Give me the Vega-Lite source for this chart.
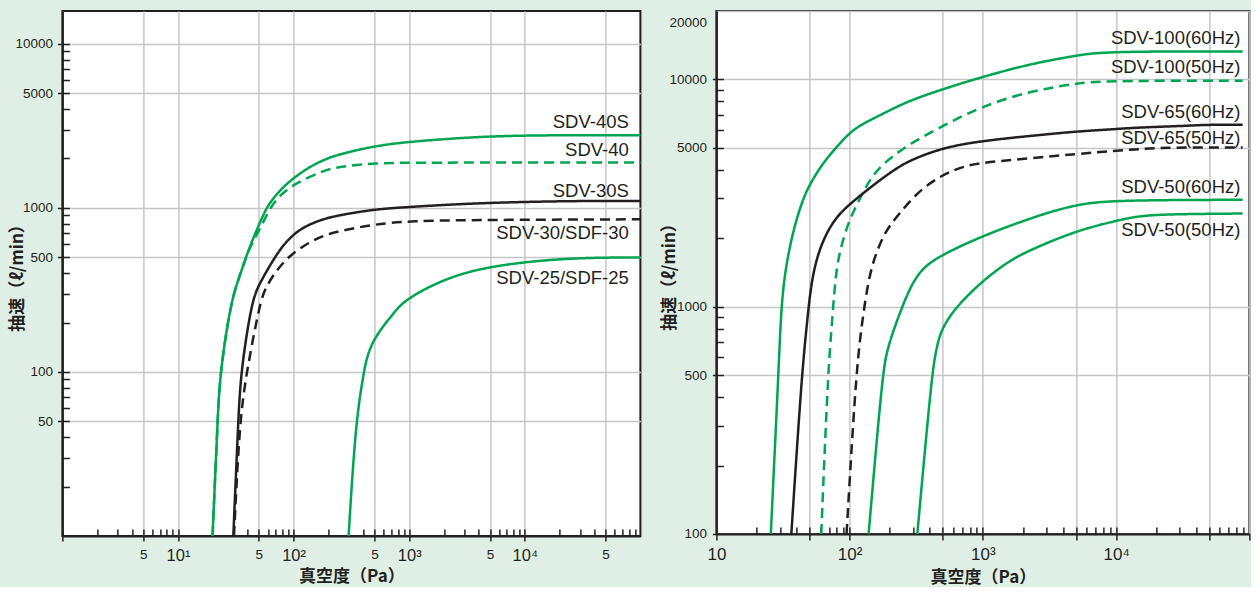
{
  "$schema": "https://vega.github.io/schema/vega-lite/v6.json",
  "background": "#e0efe5",
  "padding": {"left": 7.4, "top": 10, "right": 0, "bottom": 0},
  "spacing": 13,
  "config": {
    "view": {"fill": "white", "stroke": "#231f20", "strokeWidth": 2},
    "axis": {"tickColor": "#231f20", "tickWidth": 1.5, "domainColor": "#231f20", "domainWidth": 2, "gridColor": "#c6c6c8", "gridWidth": 1.5, "labelColor": "#231f20", "titleColor": "#231f20", "labelOverlap": false, "labelFlush": false, "labelBound": false}
  },
  "datasets": {
    "left": [
      {"m": "SDV-40S", "p": 19.9, "s": 10}, {"m": "SDV-40S", "p": 22.0, "s": 50}, {"m": "SDV-40S", "p": 23.1, "s": 100}, {"m": "SDV-40S", "p": 28.8, "s": 271}, {"m": "SDV-40S", "p": 33.8, "s": 376}, {"m": "SDV-40S", "p": 41.3, "s": 573}, {"m": "SDV-40S", "p": 50.4, "s": 795}, {"m": "SDV-40S", "p": 57.5, "s": 982}, {"m": "SDV-40S", "p": 65.7, "s": 1130}, {"m": "SDV-40S", "p": 80.2, "s": 1330}, {"m": "SDV-40S", "p": 99.8, "s": 1517}, {"m": "SDV-40S", "p": 127.8, "s": 1722}, {"m": "SDV-40S", "p": 177.9, "s": 1955}, {"m": "SDV-40S", "p": 248.2, "s": 2125}, {"m": "SDV-40S", "p": 505.8, "s": 2388}, {"m": "SDV-40S", "p": 1016, "s": 2536}, {"m": "SDV-40S", "p": 4046, "s": 2722}, {"m": "SDV-40S", "p": 13360, "s": 2775}, {"m": "SDV-40S", "p": 100000, "s": 2775},
      {"m": "SDV-40", "p": 19.9, "s": 10}, {"m": "SDV-40", "p": 22.0, "s": 50}, {"m": "SDV-40", "p": 23.1, "s": 100}, {"m": "SDV-40", "p": 28.8, "s": 271}, {"m": "SDV-40", "p": 33.8, "s": 376}, {"m": "SDV-40", "p": 41.3, "s": 573}, {"m": "SDV-40", "p": 50.4, "s": 724}, {"m": "SDV-40", "p": 61.5, "s": 982}, {"m": "SDV-40", "p": 75.0, "s": 1183}, {"m": "SDV-40", "p": 99.8, "s": 1395}, {"m": "SDV-40", "p": 177.9, "s": 1681}, {"m": "SDV-40", "p": 248.2, "s": 1786}, {"m": "SDV-40", "p": 505.8, "s": 1874}, {"m": "SDV-40", "p": 1016, "s": 1889}, {"m": "SDV-40", "p": 100000, "s": 1889},
      {"m": "SDV-30S", "p": 30.1, "s": 10}, {"m": "SDV-30S", "p": 33.2, "s": 50}, {"m": "SDV-30S", "p": 34.9, "s": 100}, {"m": "SDV-30S", "p": 43.5, "s": 271}, {"m": "SDV-30S", "p": 50.4, "s": 343}, {"m": "SDV-30S", "p": 65.7, "s": 475}, {"m": "SDV-30S", "p": 80.2, "s": 586}, {"m": "SDV-30S", "p": 99.8, "s": 691}, {"m": "SDV-30S", "p": 127.8, "s": 777}, {"m": "SDV-30S", "p": 177.9, "s": 853}, {"m": "SDV-30S", "p": 248.2, "s": 903}, {"m": "SDV-30S", "p": 505.8, "s": 982}, {"m": "SDV-30S", "p": 1016, "s": 1014}, {"m": "SDV-30S", "p": 4046, "s": 1073}, {"m": "SDV-30S", "p": 25800, "s": 1103}, {"m": "SDV-30S", "p": 100000, "s": 1103},
      {"m": "SDV-30/SDF-30", "p": 30.5, "s": 10}, {"m": "SDV-30/SDF-30", "p": 34.1, "s": 50}, {"m": "SDV-30/SDF-30", "p": 39.2, "s": 100}, {"m": "SDV-30/SDF-30", "p": 51.5, "s": 271}, {"m": "SDV-30/SDF-30", "p": 57.5, "s": 327}, {"m": "SDV-30/SDF-30", "p": 70.3, "s": 413}, {"m": "SDV-30/SDF-30", "p": 91.6, "s": 509}, {"m": "SDV-30/SDF-30", "p": 127.8, "s": 601}, {"m": "SDV-30/SDF-30", "p": 177.9, "s": 675}, {"m": "SDV-30/SDF-30", "p": 248.2, "s": 724}, {"m": "SDV-30/SDF-30", "p": 505.8, "s": 795}, {"m": "SDV-30/SDF-30", "p": 1016, "s": 833}, {"m": "SDV-30/SDF-30", "p": 4046, "s": 845}, {"m": "SDV-30/SDF-30", "p": 100000, "s": 852},
      {"m": "SDV-25/SDF-25", "p": 299, "s": 10}, {"m": "SDV-25/SDF-25", "p": 344.5, "s": 50}, {"m": "SDV-25/SDF-25", "p": 406, "s": 100}, {"m": "SDV-25/SDF-25", "p": 423.5, "s": 116.7}, {"m": "SDV-25/SDF-25", "p": 459.6, "s": 140.6}, {"m": "SDV-25/SDF-25", "p": 520, "s": 165.8}, {"m": "SDV-25/SDF-25", "p": 613.8, "s": 195.4}, {"m": "SDV-25/SDF-25", "p": 724, "s": 224.9}, {"m": "SDV-25/SDF-25", "p": 889, "s": 271}, {"m": "SDV-25/SDF-25", "p": 1822, "s": 359}, {"m": "SDV-25/SDF-25", "p": 4470, "s": 440}, {"m": "SDV-25/SDF-25", "p": 22900, "s": 498}, {"m": "SDV-25/SDF-25", "p": 100000, "s": 498}
    ],
    "leftLabels": [
      {"m": "SDV-40S", "p": 79350, "s": 3342},
      {"m": "SDV-40", "p": 79350, "s": 2242},
      {"m": "SDV-30S", "p": 79350, "s": 1270},
      {"m": "SDV-30/SDF-30", "p": 79350, "s": 699},
      {"m": "SDV-25/SDF-25", "p": 79350, "s": 372}
    ],
    "right": [
      {"m": "SDV-100(60Hz)", "p": 25.6, "s": 100}, {"m": "SDV-100(60Hz)", "p": 29.2, "s": 501}, {"m": "SDV-100(60Hz)", "p": 30.3, "s": 866}, {"m": "SDV-100(60Hz)", "p": 32.1, "s": 1344}, {"m": "SDV-100(60Hz)", "p": 37.0, "s": 2086}, {"m": "SDV-100(60Hz)", "p": 44.0, "s": 2924}, {"m": "SDV-100(60Hz)", "p": 50.3, "s": 3464}, {"m": "SDV-100(60Hz)", "p": 62.2, "s": 4242}, {"m": "SDV-100(60Hz)", "p": 78.4, "s": 4989}, {"m": "SDV-100(60Hz)", "p": 100.3, "s": 5844}, {"m": "SDV-100(60Hz)", "p": 124.1, "s": 6364}, {"m": "SDV-100(60Hz)", "p": 186, "s": 7157}, {"m": "SDV-100(60Hz)", "p": 278, "s": 8056}, {"m": "SDV-100(60Hz)", "p": 502.8, "s": 9073}, {"m": "SDV-100(60Hz)", "p": 998, "s": 10277}, {"m": "SDV-100(60Hz)", "p": 2339, "s": 11760}, {"m": "SDV-100(60Hz)", "p": 5003, "s": 12720}, {"m": "SDV-100(60Hz)", "p": 7839, "s": 13285}, {"m": "SDV-100(60Hz)", "p": 89000, "s": 13285},
      {"m": "SDV-100(50Hz)", "p": 61.2, "s": 100}, {"m": "SDV-100(50Hz)", "p": 68.6, "s": 501}, {"m": "SDV-100(50Hz)", "p": 73.9, "s": 866}, {"m": "SDV-100(50Hz)", "p": 78.4, "s": 1391}, {"m": "SDV-100(50Hz)", "p": 85.5, "s": 1821}, {"m": "SDV-100(50Hz)", "p": 98.6, "s": 2388}, {"m": "SDV-100(50Hz)", "p": 117.2, "s": 2924}, {"m": "SDV-100(50Hz)", "p": 139.3, "s": 3581}, {"m": "SDV-100(50Hz)", "p": 175.3, "s": 4242}, {"m": "SDV-100(50Hz)", "p": 278, "s": 5194}, {"m": "SDV-100(50Hz)", "p": 502.8, "s": 6254}, {"m": "SDV-100(50Hz)", "p": 998, "s": 7659}, {"m": "SDV-100(50Hz)", "p": 2339, "s": 8919}, {"m": "SDV-100(50Hz)", "p": 5003, "s": 9603}, {"m": "SDV-100(50Hz)", "p": 7839, "s": 9870}, {"m": "SDV-100(50Hz)", "p": 89000, "s": 9870},
      {"m": "SDV-65(60Hz)", "p": 36.5, "s": 100}, {"m": "SDV-65(60Hz)", "p": 43.7, "s": 501}, {"m": "SDV-65(60Hz)", "p": 48.0, "s": 866}, {"m": "SDV-65(60Hz)", "p": 52.3, "s": 1391}, {"m": "SDV-65(60Hz)", "p": 62.2, "s": 1950}, {"m": "SDV-65(60Hz)", "p": 78.4, "s": 2469}, {"m": "SDV-65(60Hz)", "p": 100.3, "s": 2828}, {"m": "SDV-65(60Hz)", "p": 124.1, "s": 3130}, {"m": "SDV-65(60Hz)", "p": 165.6, "s": 3581}, {"m": "SDV-65(60Hz)", "p": 220.9, "s": 4033}, {"m": "SDV-65(60Hz)", "p": 278, "s": 4386}, {"m": "SDV-65(60Hz)", "p": 502.8, "s": 5020}, {"m": "SDV-65(60Hz)", "p": 998, "s": 5372}, {"m": "SDV-65(60Hz)", "p": 2339, "s": 5652}, {"m": "SDV-65(60Hz)", "p": 5003, "s": 5904}, {"m": "SDV-65(60Hz)", "p": 9980, "s": 6048}, {"m": "SDV-65(60Hz)", "p": 14780, "s": 6147}, {"m": "SDV-65(60Hz)", "p": 35040, "s": 6252}, {"m": "SDV-65(60Hz)", "p": 45400, "s": 6318}, {"m": "SDV-65(60Hz)", "p": 89000, "s": 6318},
      {"m": "SDV-65(50Hz)", "p": 94.8, "s": 100}, {"m": "SDV-65(50Hz)", "p": 111.3, "s": 501}, {"m": "SDV-65(50Hz)", "p": 124.1, "s": 866}, {"m": "SDV-65(50Hz)", "p": 139.3, "s": 1344}, {"m": "SDV-65(50Hz)", "p": 156.4, "s": 1703}, {"m": "SDV-65(50Hz)", "p": 186, "s": 2158}, {"m": "SDV-65(50Hz)", "p": 233.9, "s": 2555}, {"m": "SDV-65(50Hz)", "p": 330, "s": 3236}, {"m": "SDV-65(50Hz)", "p": 502.8, "s": 3832}, {"m": "SDV-65(50Hz)", "p": 740.5, "s": 4169}, {"m": "SDV-65(50Hz)", "p": 998, "s": 4311}, {"m": "SDV-65(50Hz)", "p": 2339, "s": 4508}, {"m": "SDV-65(50Hz)", "p": 5003, "s": 4695}, {"m": "SDV-65(50Hz)", "p": 9980, "s": 4853}, {"m": "SDV-65(50Hz)", "p": 14780, "s": 4938}, {"m": "SDV-65(50Hz)", "p": 23550, "s": 5020}, {"m": "SDV-65(50Hz)", "p": 89000, "s": 5020},
      {"m": "SDV-50(60Hz)", "p": 138.8, "s": 100}, {"m": "SDV-50(60Hz)", "p": 176, "s": 501}, {"m": "SDV-50(60Hz)", "p": 190.5, "s": 639}, {"m": "SDV-50(60Hz)", "p": 215, "s": 800}, {"m": "SDV-50(60Hz)", "p": 278, "s": 1195}, {"m": "SDV-50(60Hz)", "p": 349.9, "s": 1487}, {"m": "SDV-50(60Hz)", "p": 502.8, "s": 1703}, {"m": "SDV-50(60Hz)", "p": 998, "s": 2051}, {"m": "SDV-50(60Hz)", "p": 2339, "s": 2469}, {"m": "SDV-50(60Hz)", "p": 5003, "s": 2828}, {"m": "SDV-50(60Hz)", "p": 9980, "s": 2944}, {"m": "SDV-50(60Hz)", "p": 89000, "s": 2954},
      {"m": "SDV-50(50Hz)", "p": 322, "s": 100}, {"m": "SDV-50(50Hz)", "p": 413, "s": 501}, {"m": "SDV-50(50Hz)", "p": 445, "s": 639}, {"m": "SDV-50(50Hz)", "p": 475, "s": 759}, {"m": "SDV-50(50Hz)", "p": 551, "s": 895}, {"m": "SDV-50(50Hz)", "p": 697, "s": 1061}, {"m": "SDV-50(50Hz)", "p": 998, "s": 1299}, {"m": "SDV-50(50Hz)", "p": 1564, "s": 1592}, {"m": "SDV-50(50Hz)", "p": 2339, "s": 1792}, {"m": "SDV-50(50Hz)", "p": 5003, "s": 2158}, {"m": "SDV-50(50Hz)", "p": 9980, "s": 2388}, {"m": "SDV-50(50Hz)", "p": 14780, "s": 2512}, {"m": "SDV-50(50Hz)", "p": 26100, "s": 2555}, {"m": "SDV-50(50Hz)", "p": 89000, "s": 2570}
    ],
    "rightLabels": [
      {"m": "SDV-100(60Hz)", "p": 85600, "s": 15260},
      {"m": "SDV-100(50Hz)", "p": 85600, "s": 11340},
      {"m": "SDV-65(60Hz)", "p": 85600, "s": 7186},
      {"m": "SDV-65(50Hz)", "p": 85600, "s": 5510},
      {"m": "SDV-50(60Hz)", "p": 85600, "s": 3360},
      {"m": "SDV-50(50Hz)", "p": 85600, "s": 2179}
    ]
  },
  "hconcat": [
    {
      "width": 578,
      "height": 525,
      "resolve": {"axis": {"x": "independent", "y": "independent"}},
      "layer": [
        {
          "data": {"name": "left"},
          "mark": {"type": "line", "strokeWidth": 2.5, "interpolate": "basis"},
          "encoding": {
            "x": {"field": "p", "type": "quantitative", "scale": {"type": "log", "domain": [1, 100000], "nice": false},
              "axis": {"orient": "bottom", "values": [1,2,3,4,5,6,7,8,9,10,20,30,40,50,60,70,80,90,100,200,300,400,500,600,700,800,900,1000,2000,3000,4000,5000,6000,7000,8000,9000,10000,20000,30000,40000,50000,60000,70000,80000,90000], "tickSize": -7, "labels": false, "domain": false, "grid": false, "title": null}},
            "y": {"field": "s", "type": "quantitative", "scale": {"type": "log", "domain": [10, 15849], "nice": false},
              "axis": {"orient": "left", "values": [20,30,40,50,60,70,80,90,100,200,300,400,500,600,700,800,900,1000,2000,3000,4000,5000,6000,7000,8000,9000,10000], "tickSize": -7, "labels": false, "domain": false, "grid": false, "title": null}},
            "color": {"field": "m", "type": "nominal", "legend": null,
              "scale": {"domain": ["SDV-40S", "SDV-40", "SDV-30S", "SDV-30/SDF-30", "SDV-25/SDF-25"], "range": ["#00a551", "#00a551", "#231f20", "#231f20", "#00a551"]}},
            "strokeDash": {"field": "m", "type": "nominal", "legend": null,
              "scale": {"domain": ["SDV-40S", "SDV-40", "SDV-30S", "SDV-30/SDF-30", "SDV-25/SDF-25"], "range": [[1, 0], [10, 6], [1, 0], [10, 6], [1, 0]]}}
          }
        },
        {
          "data": {"name": "leftLabels"},
          "mark": {"type": "text", "align": "right", "baseline": "middle", "font": "Liberation Sans", "fontSize": 18.5, "color": "#231f20"},
          "encoding": {
            "x": {"field": "p", "type": "quantitative", "scale": {"type": "log", "domain": [1, 100000], "nice": false},
              "axis": {"orient": "bottom", "values": [1, 5, 10, 50, 100, 500, 1000, 5000, 10000, 50000], "tickSize": 5, "grid": true,
                "labelExpr": "datum.value == 10 ? '10¹' : datum.value == 100 ? '10²' : datum.value == 1000 ? '10³' : datum.value == 10000 ? '10⁴' : datum.value == 1 ? '' : '5'",
                "labelFont": "Liberation Sans", "labelFontSize": {"condition": {"test": "indexof([5, 50, 500, 5000, 50000], datum.value) >= 0", "value": 13.5}, "value": 16.5},
                "labelPadding": 7, "title": "真空度（Pa）", "titleFont": "Noto Sans CJK JP", "titleFontSize": 17, "titleFontWeight": "bold", "titlePadding": 7, "minExtent": 26, "maxExtent": 26}},
            "y": {"field": "s", "type": "quantitative", "scale": {"type": "log", "domain": [10, 15849], "nice": false},
              "axis": {"orient": "left", "values": [50, 100, 500, 1000, 5000, 10000], "tickSize": 5, "grid": true, "format": "d",
                "labelFont": "Liberation Sans", "labelFontSize": 13.5, "labelPadding": 5,
                "title": "抽速（ℓ/min）", "titleFont": "Noto Sans CJK JP", "titleFontSize": 17, "titleFontWeight": "bold", "titlePadding": 6, "minExtent": 30, "maxExtent": 30}},
            "text": {"field": "m"}
          }
        }
      ]
    },
    {
      "width": 533,
      "height": 523,
      "resolve": {"axis": {"x": "independent", "y": "independent"}},
      "layer": [
        {
          "data": {"name": "right"},
          "mark": {"type": "line", "strokeWidth": 2.5, "interpolate": "basis"},
          "encoding": {
            "x": {"field": "p", "type": "quantitative", "scale": {"type": "log", "domain": [10, 100000], "nice": false},
              "axis": {"orient": "bottom", "values": [20,30,40,50,60,70,80,90,100,200,300,400,500,600,700,800,900,1000,2000,3000,4000,5000,6000,7000,8000,9000,10000,20000,30000,40000,50000,60000,70000,80000,90000], "tickSize": -7, "labels": false, "domain": false, "grid": false, "title": null}},
            "y": {"field": "s", "type": "quantitative", "scale": {"type": "log", "domain": [100, 20000], "nice": false},
              "axis": {"orient": "left", "values": [200,300,400,500,600,700,800,900,1000,2000,3000,4000,5000,6000,7000,8000,9000,10000], "tickSize": -7, "labels": false, "domain": false, "grid": false, "title": null}},
            "color": {"field": "m", "type": "nominal", "legend": null,
              "scale": {"domain": ["SDV-100(60Hz)", "SDV-100(50Hz)", "SDV-65(60Hz)", "SDV-65(50Hz)", "SDV-50(60Hz)", "SDV-50(50Hz)"], "range": ["#00a551", "#00a551", "#231f20", "#231f20", "#00a551", "#00a551"]}},
            "strokeDash": {"field": "m", "type": "nominal", "legend": null,
              "scale": {"domain": ["SDV-100(60Hz)", "SDV-100(50Hz)", "SDV-65(60Hz)", "SDV-65(50Hz)", "SDV-50(60Hz)", "SDV-50(50Hz)"], "range": [[1, 0], [10, 6], [1, 0], [10, 6], [1, 0], [10, 6]]}}
          }
        },
        {
          "data": {"name": "rightLabels"},
          "mark": {"type": "text", "align": "right", "baseline": "middle", "font": "Liberation Sans", "fontSize": 18.5, "color": "#231f20"},
          "encoding": {
            "x": {"field": "p", "type": "quantitative", "scale": {"type": "log", "domain": [10, 100000], "nice": false},
              "axis": {"orient": "bottom", "values": [10, 50, 100, 500, 1000, 5000, 10000, 50000, 100000], "tickSize": 6, "grid": true,
                "labelExpr": "datum.value == 10 ? '10' : datum.value == 100 ? '10²' : datum.value == 1000 ? '10³' : datum.value == 10000 ? '10⁴' : ''",
                "labelFont": "Liberation Sans", "labelFontSize": 17, "labelPadding": 6.5,
                "title": "真空度（Pa）", "titleFont": "Noto Sans CJK JP", "titleFontSize": 17, "titleFontWeight": "bold", "titlePadding": 6, "minExtent": 30, "maxExtent": 30}},
            "y": {"field": "s", "type": "quantitative", "scale": {"type": "log", "domain": [100, 20000], "nice": false},
              "axis": {"orient": "left", "values": [100, 500, 1000, 5000, 10000, 20000], "tickSize": 4, "grid": true, "format": "d",
                "tickOpacity": {"condition": {"test": "datum.value == 20000", "value": 0}, "value": 1},
                "labelOffset": {"condition": {"test": "datum.value == 20000", "value": 11}, "value": 0},
                "labelFont": "Liberation Sans", "labelFontSize": 13.5, "labelPadding": 6,
                "title": "抽速（ℓ/min）", "titleFont": "Noto Sans CJK JP", "titleFontSize": 17, "titleFontWeight": "bold", "titlePadding": 6, "minExtent": 32, "maxExtent": 32}},
            "text": {"field": "m"}
          }
        }
      ]
    }
  ]
}
